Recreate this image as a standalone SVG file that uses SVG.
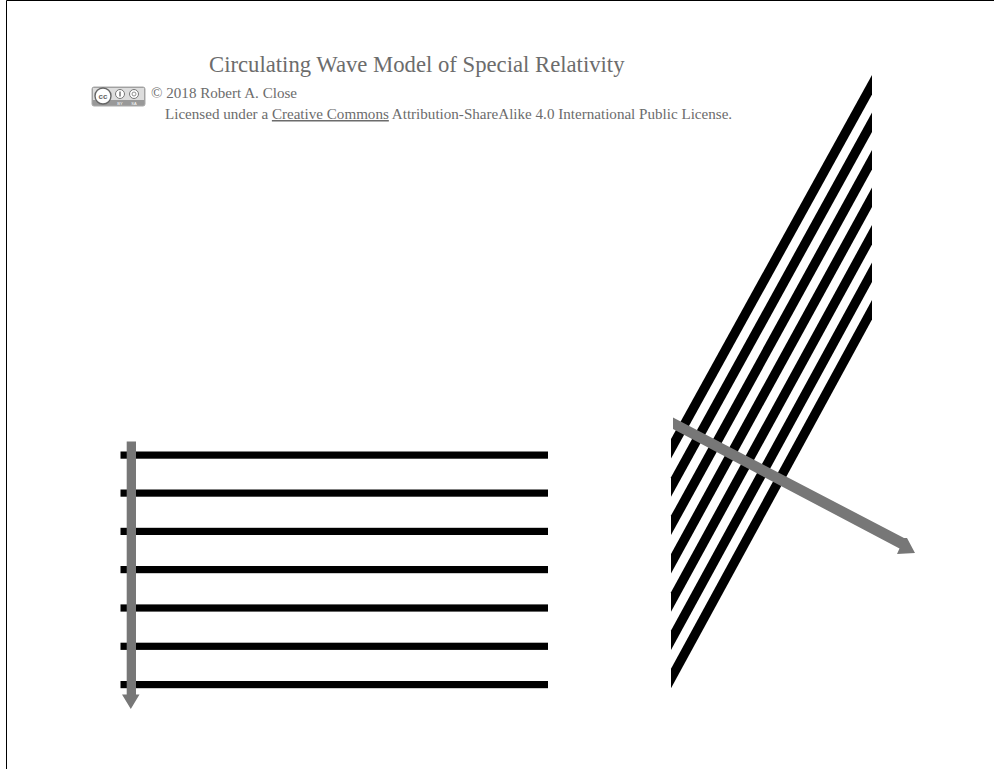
<svg xmlns="http://www.w3.org/2000/svg" width="994" height="769" viewBox="0 0 994 769">
<style>
.t{font-family:"Liberation Serif","Times New Roman",serif;fill:#6c6c6c}
.h{fill:#000}
.g{fill:#777}
.b{font-family:"Liberation Sans",Arial,sans-serif;fill:#fff}
</style>
<rect width="994" height="769" fill="#fff"/>
<g id="frame"><path d="M6.500 769V.5H994" fill="none" stroke="#000" stroke-width="1"/></g>
<g id="title"><text class="t" x="209" y="72" font-size="22.700">Circulating Wave Model of Special Relativity</text></g>
<g id="badge">
<rect x="92" y="87" width="53" height="19" rx="2" fill="#999" stroke="#aaa"/>
<path d="M93 88H144V100H93Z" fill="#ddd"/>
<circle cx="103" cy="96" r="8" fill="#fff" stroke="#666" stroke-width="1.400"/>
<text x="103" y="98.500" font-size="8" font-weight="bold" text-anchor="middle" font-family="Liberation Sans,sans-serif" fill="#666">cc</text>
<circle cx="120" cy="94" r="4.500" fill="#fff" stroke="#777"/>
<path d="M120 91.500V96.500" stroke="#777" stroke-width="1.500"/>
<circle cx="134" cy="94" r="4.500" fill="#fff" stroke="#777"/>
<circle cx="134" cy="94" r="2" fill="none" stroke="#777" stroke-width=".8"/>
<text class="b" x="120" y="105" font-size="4" text-anchor="middle">BY</text>
<text class="b" x="134" y="105" font-size="4" text-anchor="middle">SA</text>
</g>
<g id="copyright"><text class="t" x="151" y="98" font-size="15.100">© 2018 Robert A. Close</text></g>
<g id="license"><text class="t" x="165" y="119" font-size="15.100">Licensed under a <tspan text-decoration="underline">Creative Commons</tspan> Attribution-ShareAlike 4.0 International Public License.</text></g>
<g id="horizontal-wave">
<rect class="h" x="120.500" y="451.500" width="427.500" height="7.200"/>
<rect class="h" x="120.500" y="489.500" width="427.500" height="7.200"/>
<rect class="h" x="120.500" y="527.800" width="427.500" height="7.200"/>
<rect class="h" x="120.500" y="566" width="427.500" height="7.200"/>
<rect class="h" x="120.500" y="604.400" width="427.500" height="7.200"/>
<rect class="h" x="120.500" y="642.700" width="427.500" height="7.200"/>
<rect class="h" x="120.500" y="681" width="427.500" height="7.200"/>
</g>
<g id="horizontal-wave-arrow"><path class="g" d="M126.700 441.500H136V694.500H139.500L130.800 709L122 694.500H126.700Z"/></g>
<g id="slanted-wave">
<path class="h" d="M872 75V94.500L671 458.500V439Z"/>
<path class="h" d="M872 112.500V132L671 496.800V477.300Z"/>
<path class="h" d="M872 150V169.500L671 535.100V515.600Z"/>
<path class="h" d="M872 187.500V207L671 573.400V553.900Z"/>
<path class="h" d="M872 225V244.500L671 611.700V592.200Z"/>
<path class="h" d="M872 262.500V282L671 650V630.500Z"/>
<path class="h" d="M872 300V319.500L671 688.300V668.800Z"/>
</g>
<g id="slanted-wave-arrow"><path class="g" d="M673 417.500L904 538L907 538L915 553L897 554L899.500 548.500L673 429Z"/></g>
</svg>
